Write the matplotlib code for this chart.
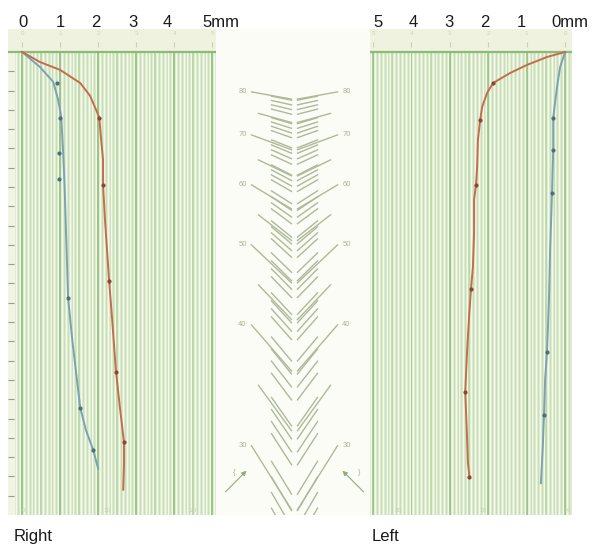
import numpy as np
import matplotlib
matplotlib.use("Agg")
import matplotlib.pyplot as plt

plt.rcParams['font.family'] = ['Liberation Sans', 'DejaVu Sans']

# ---- data (x in mm, y in chart rows from the top line) ----
right_red_mm = [0, 0.47, 1.0, 1.53, 1.79, 1.97, 2.03, 2.08, 2.13, 2.13, 2.18, 2.29, 2.37, 2.47, 2.58, 2.68, 2.68, 2.66]
right_red_y = [0, 0.52, 0.93, 1.61, 2.28, 3.11, 3.42, 4.56, 5.60, 6.89, 8.70, 11.87, 13.89, 16.58, 18.55, 20.21, 21.40, 22.69]
right_red_dot_mm = [2.03, 2.13, 2.29, 2.47, 2.68]
right_red_dot_y = [3.42, 6.89, 11.87, 16.58, 20.21]

right_blue_mm = [0, 0.47, 0.82, 0.95, 1.03, 1.08, 1.11, 1.13, 1.21, 1.32, 1.53, 1.68, 1.87, 2.0]
right_blue_y = [0, 0.78, 1.55, 2.49, 3.37, 5.23, 6.58, 7.67, 12.75, 14.92, 18.45, 19.6, 20.62, 21.6]
right_blue_dot_mm = [0.92, 1.0, 0.97, 0.97, 1.21, 1.53, 1.87]
right_blue_dot_y = [1.61, 3.42, 5.23, 6.58, 12.75, 18.45, 20.62]

left_red_mm = [0, 0.47, 0.99, 1.43, 1.875, 2.03, 2.16, 2.21, 2.27, 2.29, 2.32, 2.37, 2.37, 2.40, 2.45, 2.5, 2.55, 2.6, 2.56, 2.53, 2.49]
left_red_y = [0, 0.26, 0.67, 1.09, 1.61, 2.12, 2.85, 3.52, 4.56, 5.96, 6.89, 7.67, 9.38, 11.14, 12.28, 13.73, 15.44, 17.62, 19.59, 21.30, 22.02]
left_red_dot_mm = [1.875, 2.21, 2.32, 2.45, 2.6, 2.49]
left_red_dot_y = [1.61, 3.52, 6.89, 12.28, 17.62, 22.02]

left_blue_mm = [0, 0.13, 0.21, 0.31, 0.31, 0.34, 0.39, 0.42, 0.47, 0.52, 0.55, 0.58, 0.63]
left_blue_y = [0, 0.78, 1.81, 3.42, 5.08, 7.31, 10.26, 12.85, 15.54, 16.96, 18.81, 20.45, 22.35]
left_blue_dot_mm = [0.31, 0.31, 0.34, 0.47, 0.55]
left_blue_dot_y = [3.42, 5.08, 7.31, 15.54, 18.81]

# top labels (mm) and their positions
right_labels = ['0', '1', '2', '3', '4']
right_label_x = [0.03, 1.0, 1.95, 2.92, 3.82]
left_labels = ['5', '4', '3', '2', '1']
left_label_x = [4.87, 3.96, 3.02, 2.08, 1.15]

# middle scale: labelled values and the rows where they sit
scale_vals = [20, 30, 40, 50, 60, 70, 80]
scale_rows = [28.5, 20.41, 14.15, 10.0, 6.89, 4.30, 2.07]
scale_slope = [2.0, 1.6, 1.15, 0.95, 0.6, 0.37, 0.18]

RED = '#c46d4c'
BLUE = '#7ba2b2'
RED_DOT = '#8c4632'
BLUE_DOT = '#4d6f7c'
PALE = '#adb99a'

W, H = 605, 551
ROW_PX = 19.3
Y_TOP, Y_BOT = -1.19, 24.0


def grid_panel(ax, xlim, xs):
    ax.set_xlim(*xlim)
    ax.set_ylim(Y_BOT, Y_TOP)
    ax.axis('off')
    ax.axhspan(Y_TOP, 0, color='#eef2df', zorder=0)
    ax.axhspan(0, Y_BOT, color='#e0ecd2', zorder=0)
    for x in xs:
        k = int(round(x * 10))
        if k % 10 == 0:
            c, lw = '#9cc387', 1.4
        elif k % 5 == 0:
            c, lw = '#b3d29f', 1.1
        else:
            c, lw = '#c6dfb5', 0.9
        ax.vlines(x, 0, Y_BOT, color=c, lw=lw, zorder=1)
        ax.vlines(x + 0.05, 0, Y_BOT, color='#f5f9ec', lw=0.9, zorder=1)
    ax.axhline(0, color='#8dbb77', lw=1.6, zorder=2)
    for m in range(6):
        ax.vlines(m, -0.5, -0.25, color='#c4d6b1', lw=0.8)
        ax.text(m, -0.95, str(m), fontsize=4.5, color='#c9d8b8', ha='center', va='center')


fig = plt.figure(figsize=(W / 100, H / 100), dpi=100)
fb = 1 - 515 / H
fh = 486 / H

# ---------------- Right eye panel ----------------
ax_r = fig.add_axes([8 / W, fb, 208 / W, fh])
grid_panel(ax_r, (-0.37, 5.1), np.round(np.arange(-0.2, 5.11, 0.1), 2))
ax_r.axvspan(-0.37, -0.22, ymin=0, ymax=Y_BOT / (Y_BOT - Y_TOP), color='#f1f4e4', zorder=1.5)
for r in range(1, 24):
    ax_r.hlines(r, -0.37, -0.22, color='#8fa086', lw=0.8, zorder=2)
ax_r.plot(right_blue_mm, right_blue_y, color=BLUE, lw=1.4, zorder=3)
ax_r.plot(right_red_mm, right_red_y, color=RED, lw=1.4, zorder=3)
ax_r.plot(right_blue_dot_mm, right_blue_dot_y, 'o', ms=2, color=BLUE_DOT, zorder=4)
ax_r.plot(right_red_dot_mm, right_red_dot_y, 'o', ms=2, color=RED_DOT, zorder=4)
for t, x in zip(['0', '10', '20'], [0.03, 2.24, 4.5]):
    ax_r.text(x, 23.75, t, fontsize=4.5, color='#c2d2b0', ha='center', va='center')
for t, x in zip(right_labels, right_label_x):
    ax_r.annotate(t, xy=(x, 1), xycoords=('data', 'axes fraction'), xytext=(0, 1.5),
                  textcoords='offset points', ha='center', va='baseline', fontsize=12, color='#1a1a1a')
ax_r.annotate('5mm', xy=(4.74, 1), xycoords=('data', 'axes fraction'), xytext=(0, 1.5),
              textcoords='offset points', ha='left', va='baseline', fontsize=12, color='#1a1a1a',
              annotation_clip=False)

# ---------------- Left eye panel ----------------
ax_l = fig.add_axes([370 / W, fb, 202 / W, fh])
grid_panel(ax_l, (5.08, -0.18), np.round(np.arange(-0.1, 5.01, 0.1), 2))
ax_l.plot(left_blue_mm, left_blue_y, color=BLUE, lw=1.4, zorder=3)
ax_l.plot(left_red_mm, left_red_y, color=RED, lw=1.4, zorder=3)
ax_l.plot(left_blue_dot_mm, left_blue_dot_y, 'o', ms=2, color=BLUE_DOT, zorder=4)
ax_l.plot(left_red_dot_mm, left_red_dot_y, 'o', ms=2, color=RED_DOT, zorder=4)
for t, x in zip(['20', '10', '0'], [4.35, 2.13, -0.08]):
    ax_l.text(x, 23.75, t, fontsize=4.5, color='#c2d2b0', ha='center', va='center')
for t, x in zip(left_labels, left_label_x):
    ax_l.annotate(t, xy=(x, 1), xycoords=('data', 'axes fraction'), xytext=(0, 1.5),
                  textcoords='offset points', ha='center', va='baseline', fontsize=12, color='#1a1a1a')
ax_l.annotate('0mm', xy=(0.36, 1), xycoords=('data', 'axes fraction'), xytext=(0, 1.5),
              textcoords='offset points', ha='left', va='baseline', fontsize=12, color='#1a1a1a',
              annotation_clip=False)

# ---------------- middle scale ----------------
ax_m = fig.add_axes([216 / W, fb, 154 / W, fh])
ax_m.set_xlim(-78.5, 75.5)
ax_m.set_ylim(Y_BOT, Y_TOP)
ax_m.axis('off')
ax_m.axhspan(Y_TOP, Y_BOT, color='#fcfcf6', zorder=0)

for v in range(80, 24, -1):
    row = np.interp(v, scale_vals, scale_rows)
    s = np.interp(v, scale_vals, scale_slope)
    L = 40 if v % 10 == 0 else (33 if v % 5 == 0 else 20)
    drop = L * s / ROW_PX
    for side in (-1, 1):
        ax_m.plot([side * (3 + L), side * 3], [row, row + drop], color=PALE, lw=1.0, zorder=1)
    if v % 10 == 0:
        for side in (-1, 1):
            ax_m.text(side * 52, row, str(v), fontsize=5.5, color='#a9b497',
                      ha='center', va='center')

for side in (-1, 1):
    ax_m.annotate('', xy=(side * 46, 21.6), xytext=(side * 71, 22.9),
                  arrowprops=dict(arrowstyle='-|>', color='#93a880', lw=0.8, mutation_scale=7))
ax_m.text(-60, 21.8, '{', fontsize=5, color='#9fb08d', ha='center', va='center')
ax_m.text(65, 21.8, '}', fontsize=5, color='#9fb08d', ha='center', va='center')

fig.text(14 / W, 1 - 541 / H, 'Right', fontsize=12, color='#1a1a1a', va='baseline')
fig.text(372 / W, 1 - 541 / H, 'Left', fontsize=12, color='#1a1a1a', va='baseline')

fig.savefig('out.png', dpi=100, facecolor='white')
